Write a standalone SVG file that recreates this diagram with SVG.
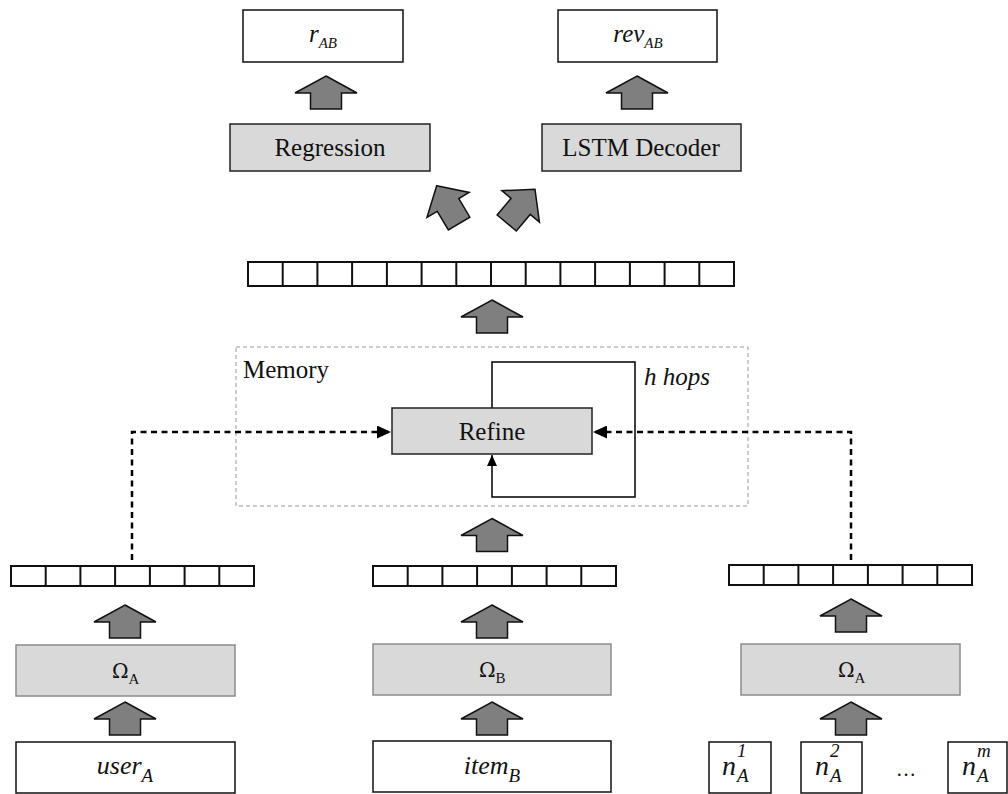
<svg xmlns="http://www.w3.org/2000/svg" width="1008" height="794" viewBox="0 0 1008 794">
  <style>
    .txt { font-family: "Liberation Serif", "Times New Roman", serif; font-size: 25px; fill: #111; }
    .it { font-style: italic; }
    .sub { font-size: 15px; }
    .sub2 { font-size: 19px; }
    .omega { font-family: "DejaVu Serif", "Liberation Serif", serif; font-size: 20px; }
    .box { fill: #ffffff; stroke: #111; stroke-width: 1.5; }
    .proc { fill: #d9d9d9; stroke: #222; stroke-width: 1.5; }
    .enc { fill: #d9d9d9; stroke: #8c8c8c; stroke-width: 1.5; }
    .cell { fill: #ffffff; stroke: #111; stroke-width: 2; }
    .grid { fill: none; stroke: #111; stroke-width: 2; }
    .flow { fill: #7f7f7f; stroke: #111; stroke-width: 1.5; stroke-linejoin: miter; }
    .mem { fill: none; stroke: #9a9a9a; stroke-width: 1; stroke-dasharray: 4 3; }
    .dash { fill: none; stroke: #000; stroke-width: 2.5; stroke-dasharray: 6 4.5; }
    .loop { fill: none; stroke: #000; stroke-width: 1.5; }
  </style>
  <defs>
    <!-- block arrow pointing up, tip at origin -->
    <path id="up" d="M0,0 L31,17 L15.5,17 L15.5,33 L-15.5,33 L-15.5,17 L-31,17 Z"/>
    <!-- slimmer block arrow used for the split above the shared vector -->
    <path id="fork" d="M0,0 L24.5,22.3 L12.5,22.3 L12.5,44 L-12.5,44 L-12.5,22.3 L-24.5,22.3 Z"/>
    <marker id="tri" markerWidth="14" markerHeight="13" refX="14" refY="6.5" orient="auto" markerUnits="userSpaceOnUse">
      <path d="M0,0 L14,6.5 L0,13 Z" fill="#000"/>
    </marker>
    <marker id="triSmall" markerWidth="11" markerHeight="10" refX="11" refY="5" orient="auto" markerUnits="userSpaceOnUse">
      <path d="M0,0 L11,5 L0,10 Z" fill="#000"/>
    </marker>
  </defs>

  <rect width="1008" height="794" fill="#ffffff"/>

  <!-- memory region -->
  <g id="memory">
    <rect class="mem" x="236" y="347" width="512" height="159"/>
    <text class="txt" x="243" y="378">Memory</text>
  </g>

  <!-- connectors -->
  <g id="connectors">
    <path class="dash" d="M132,560 L132,432 L391,432" marker-end="url(#tri)"/>
    <path class="dash" d="M851,560 L851,432 L593,432" marker-end="url(#tri)"/>
    <path class="loop" d="M492,408 L492,362 L635,362 L635,497 L492,497 L492,455" marker-end="url(#triSmall)"/>
    <text class="txt it" x="644" y="385">h hops</text>

    <use href="#up" class="flow" transform="translate(326,76)"/>
    <use href="#up" class="flow" transform="translate(637,76)"/>
    <use href="#fork" class="flow" transform="translate(436.7,185.7) rotate(-30.6)"/>
    <use href="#fork" class="flow" transform="translate(535,189.3) rotate(40)"/>
    <use href="#up" class="flow" transform="translate(492,300)"/>
    <use href="#up" class="flow" transform="translate(492,518.5)"/>
    <use href="#up" class="flow" transform="translate(125,605)"/>
    <use href="#up" class="flow" transform="translate(125,702)"/>
    <use href="#up" class="flow" transform="translate(492,605)"/>
    <use href="#up" class="flow" transform="translate(492,702)"/>
    <use href="#up" class="flow" transform="translate(851,599)"/>
    <use href="#up" class="flow" transform="translate(851,702)"/>
  </g>

  <!-- outputs -->
  <g id="rating">
    <rect class="box" x="243" y="10" width="160" height="52"/>
    <text class="txt it" x="323" y="42" text-anchor="middle">r<tspan class="sub" dy="6">AB</tspan></text>
  </g>
  <g id="review">
    <rect class="box" x="558" y="10" width="159" height="52"/>
    <text class="txt it" x="638" y="42" text-anchor="middle">rev<tspan class="sub" dy="6">AB</tspan></text>
  </g>
  <g id="regression">
    <rect class="proc" x="230" y="124" width="200" height="47"/>
    <text class="txt" x="330" y="156" text-anchor="middle">Regression</text>
  </g>
  <g id="decoder">
    <rect class="proc" x="542" y="124" width="199" height="47"/>
    <text class="txt" x="641" y="156" text-anchor="middle">LSTM Decoder</text>
  </g>

  <!-- shared representation vector -->
  <g id="joint-vector">
    <rect class="cell" x="248" y="262" width="486" height="24"/>
    <path class="grid" d="M282.7,262V286 M317.4,262V286 M352.1,262V286 M386.9,262V286 M421.6,262V286 M456.3,262V286 M491,262V286 M525.7,262V286 M560.4,262V286 M595.1,262V286 M629.9,262V286 M664.6,262V286 M699.3,262V286"/>
  </g>

  <g id="refine">
    <rect class="proc" x="392" y="408" width="200" height="46"/>
    <text class="txt" x="492" y="440" text-anchor="middle">Refine</text>
  </g>

  <!-- per-source vectors -->
  <g id="user-vector">
    <rect class="cell" x="11" y="566" width="243" height="20"/>
    <path class="grid" d="M45.7,566V586 M80.4,566V586 M115.1,566V586 M149.9,566V586 M184.6,566V586 M219.3,566V586"/>
  </g>
  <g id="item-vector">
    <rect class="cell" x="373" y="566" width="243" height="20"/>
    <path class="grid" d="M407.7,566V586 M442.4,566V586 M477.1,566V586 M511.9,566V586 M546.6,566V586 M581.3,566V586"/>
  </g>
  <g id="neighbour-vector">
    <rect class="cell" x="729" y="565" width="243" height="20"/>
    <path class="grid" d="M763.7,565V585 M798.4,565V585 M833.1,565V585 M867.9,565V585 M902.6,565V585 M937.3,565V585"/>
  </g>

  <!-- encoders -->
  <g id="omega-user">
    <rect class="enc" x="16" y="645" width="219" height="51"/>
    <text class="txt" x="112" y="678"><tspan class="omega">Ω</tspan><tspan class="sub" dy="6">A</tspan></text>
  </g>
  <g id="omega-item">
    <rect class="enc" x="373" y="644" width="238" height="51"/>
    <text class="txt" x="479" y="677"><tspan class="omega">Ω</tspan><tspan class="sub" dy="6">B</tspan></text>
  </g>
  <g id="omega-neighbours">
    <rect class="enc" x="741" y="644" width="219" height="51"/>
    <text class="txt" x="838" y="677"><tspan class="omega">Ω</tspan><tspan class="sub" dy="6">A</tspan></text>
  </g>

  <!-- inputs -->
  <g id="user">
    <rect class="box" x="16" y="742" width="219" height="51"/>
    <text class="txt it" x="125" y="774" text-anchor="middle" style="font-size:26px">user<tspan class="sub2" dy="8">A</tspan></text>
  </g>
  <g id="item">
    <rect class="box" x="373" y="741" width="238" height="51"/>
    <text class="txt it" x="492" y="774" text-anchor="middle" style="font-size:26px">item<tspan class="sub2" dy="8">B</tspan></text>
  </g>
  <g id="neighbour-1">
    <rect class="box" x="709" y="742" width="62" height="51"/>
    <text class="txt it" x="722" y="775" style="font-size:28px">n<tspan class="sub2" x="737" y="757">1</tspan><tspan class="sub2" x="737" y="782">A</tspan></text>
  </g>
  <g id="neighbour-2">
    <rect class="box" x="801" y="742" width="61" height="51"/>
    <text class="txt it" x="815" y="775" style="font-size:28px">n<tspan class="sub2" x="830" y="757">2</tspan><tspan class="sub2" x="830" y="782">A</tspan></text>
  </g>
  <text class="txt" x="906" y="776" text-anchor="middle" style="font-size:20px">…</text>
  <g id="neighbour-m">
    <rect class="box" x="948" y="742" width="59" height="51"/>
    <text class="txt it" x="962" y="775" style="font-size:28px">n<tspan class="sub2" x="977" y="757">m</tspan><tspan class="sub2" x="977" y="782">A</tspan></text>
  </g>
</svg>
